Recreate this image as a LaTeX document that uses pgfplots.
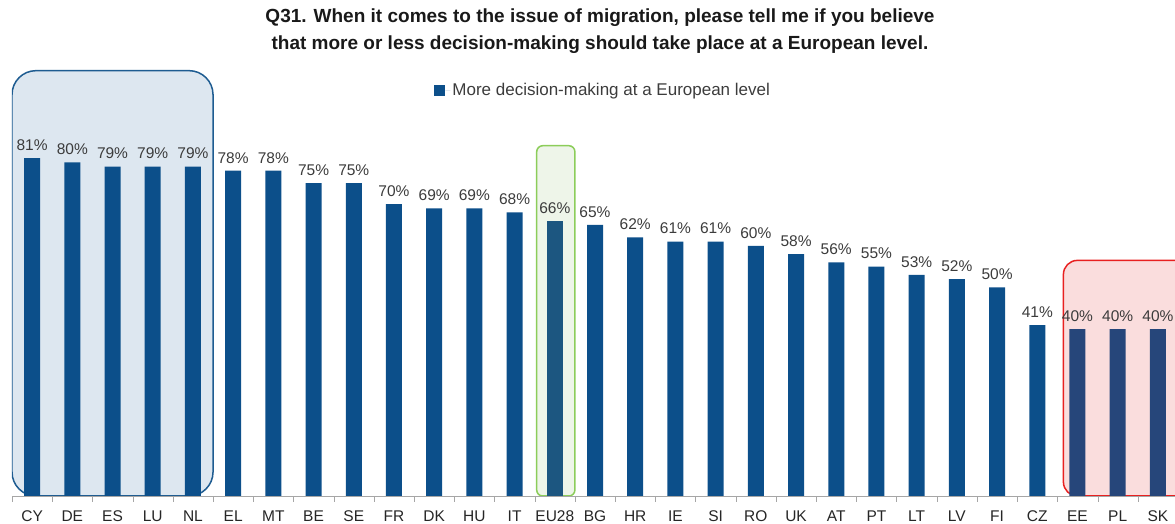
\documentclass[border=0pt]{standalone}
\usepackage{pgfplots}
\pgfplotsset{compat=1.18}
\usepackage{fontspec}
\setmainfont{Liberation Sans}

\definecolor{barblue}{RGB}{12,79,138}
\definecolor{eublue}{RGB}{28,86,128}
\definecolor{lowblue}{RGB}{38,70,122}
\definecolor{boxblue}{RGB}{221,231,240}
\definecolor{boxblueline}{RGB}{30,92,145}
\definecolor{boxgreen}{RGB}{238,245,233}
\definecolor{boxgreenline}{RGB}{140,205,90}
\definecolor{boxred}{RGB}{250,221,221}
\definecolor{boxredline}{RGB}{232,32,32}
\definecolor{labgray}{RGB}{60,60,60}

\begin{document}
\begin{tikzpicture}[x=1pt,y=1pt]
  \useasboundingbox (0,0) rectangle (1175,524);

  \node[font=\fontsize{19}{23}\selectfont\bfseries, align=center, text=black!90]
    at (600,492.5) {Q31. When it comes to the issue of migration, please tell me if you believe\\[4pt]
    that more or less decision-making should take place at a European level.};

  \begin{axis}[
      at={(12pt,28pt)}, anchor=south west,
      scale only axis,
      width=1166pt, height=437.85pt,
      xmin=-0.5, xmax=28.5,
      ymin=0, ymax=105,
      axis x line*=bottom,
      axis y line=none,
      axis line style={draw=gray!70},
      xtick={0,...,28},
      xticklabels={CY,DE,ES,LU,NL,EL,MT,BE,SE,FR,DK,HU,IT,EU28,BG,HR,IE,SI,RO,UK,AT,PT,LT,LV,FI,CZ,EE,PL,SK},
      major tick length=0pt,
      minor xtick={-0.5,0.5,...,28.5},
      minor tick length=6pt,
      tick align=outside,
      minor tick style={draw=gray!70},
      xticklabel style={font=\fontsize{15.5}{17}\selectfont, text=black!85, yshift=-11pt},
      /pgf/number format/assume math mode=true,
      ybar, bar width=16pt, bar shift=0pt,
      nodes near coords={\pgfmathprintnumber{\pgfplotspointmeta}\%},
      nodes near coords style={font=\fontsize{15.5}{17}\selectfont, text=labgray, yshift=4pt},
      legend style={at={(0.507,0.927)}, anchor=center, draw=none, fill=none,
        font=\fontsize{17}{19}\selectfont, text=labgray},
      legend image code/.code={
        \fill[barblue] (0pt,-5.5pt) rectangle (11pt,5.5pt);
        \path (11pt,0pt) -- (16pt,0pt);},
    ]

    % highlight boxes behind the bars
    \draw[boxblueline, line width=1.5pt, fill=boxblue, rounded corners=24pt]
      (axis cs:-0.5,0) rectangle (axis cs:4.5,102);
    \draw[boxgreenline, line width=1.5pt, fill=boxgreen, rounded corners=6pt]
      (axis cs:12.55,0) rectangle (axis cs:13.5,84);
    \draw[boxredline, line width=1.5pt, fill=boxred, rounded corners=14pt]
      (axis cs:25.65,0) rectangle (axis cs:29.2,56.5);

    \addplot[fill=barblue, draw=none] coordinates {
      (0,81) (1,80) (2,79) (3,79) (4,79) (5,78) (6,78) (7,75) (8,75)
      (9,70) (10,69) (11,69) (12,68) (14,65) (15,62) (16,61) (17,61)
      (18,60) (19,58) (20,56) (21,55) (22,53) (23,52) (24,50) (25,41)
    };
    \addlegendentry{More decision-making at a European level}

    \addplot[fill=eublue, draw=none, forget plot] coordinates {(13,66)};
    \addplot[fill=lowblue, draw=none, forget plot] coordinates {(26,40) (27,40) (28,40)};
  \end{axis}
\end{tikzpicture}
\end{document}
